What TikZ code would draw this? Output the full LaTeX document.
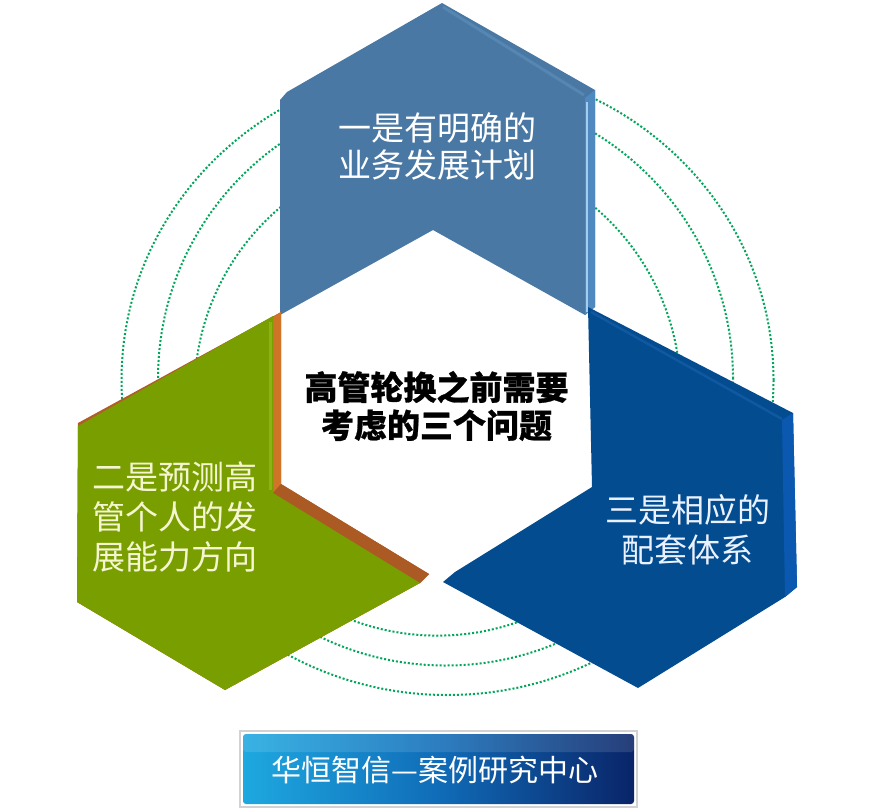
\documentclass[tikz,border=0pt]{standalone}
\usepackage{fontspec}
\newfontfamily\cjk{Noto Sans CJK SC}
\definecolor{topface}{RGB}{74,120,164}
\definecolor{topband}{RGB}{86,134,178}
\definecolor{topside}{RGB}{80,136,192}
\definecolor{topstripe}{RGB}{160,205,240}
\definecolor{greenface}{RGB}{120,158,0}
\definecolor{greenlight}{RGB}{140,178,20}
\definecolor{greenstrip}{RGB}{208,116,40}
\definecolor{greenarm}{RGB}{172,90,36}
\definecolor{greentop}{RGB}{176,94,40}
\definecolor{blueface}{RGB}{4,76,144}
\definecolor{blueband}{RGB}{16,88,160}
\definecolor{blueside}{RGB}{10,88,176}
\definecolor{dotgreen}{RGB}{0,166,90}
\definecolor{bannerL}{RGB}{30,168,224}
\definecolor{bannerM}{RGB}{16,108,184}
\definecolor{bannerR}{RGB}{10,36,104}
\definecolor{greentext}{RGB}{245,245,208}
\definecolor{bluetext}{RGB}{235,242,255}
\tikzset{
  ring/.style={dotgreen, line width=2pt, dash pattern=on 2pt off 2pt},
  cjktext/.style={inner sep=0pt, align=center, font=\cjk\fontsize{33}{40}\selectfont},
}
\begin{document}
\begin{tikzpicture}[x=1pt,y=-1pt]
\fill[white] (0,0) rectangle (872,811);
\useasboundingbox (0,0) rectangle (872,811);
% dotted rings
\draw[ring] (447.5,380) ellipse [x radius=326pt, y radius=315pt];
\draw[ring] (445.5,378.5) ellipse [x radius=287.5pt, y radius=287pt];
\draw[ring] (437.5,392.6) circle [radius=243pt];
% top piece
\fill[topface] (442,3) -- (595,90) -- (595,307) -- (585,315) -- (433,230) -- (280,315) -- (280,100) -- (287,92) -- cycle;
\draw[topband, line width=3pt] (443,7) -- (584,95);
\fill[topside] (585,98) -- (595,90) -- (595,307) -- (585,315) -- cycle;
\draw[topstripe, line width=2.5pt] (587,102) -- (587,312);
% green piece
\fill[greentop] (281,312) -- (78,423) -- (77,602) -- (225,690) -- (420,583) -- (429,574) -- (281,484) -- cycle;
\fill[greenstrip] (273,317) -- (281,312) -- (281,484) -- (273,493) -- cycle;
\fill[greenarm] (273,493) -- (281,484) -- (429,574) -- (420,583) -- cycle;
\fill[greenface] (273,316) -- (78,426) -- (77,602) -- (225,690) -- (420,583) -- (273,493) -- cycle;
\draw[greenlight, line width=3pt] (270,322) -- (270,490);
% blue piece
\fill[blueface] (588,307) -- (793,413) -- (797,587) -- (785,597) -- (638,688) -- (443,582) -- (455,572) -- (592,487) -- cycle;
\draw[blueband, line width=2.5pt] (591,312) -- (782,419);
\fill[blueside] (782,420) -- (793,413) -- (797,587) -- (785,597) -- cycle;
% texts
\node[cjktext, text=white, font=\cjk\fontsize{33}{37}\selectfont] (t1) at (437.5,146.5) {一是有明确的\\业务发展计划};
\node[cjktext, text=black, font=\cjk\bfseries\addfontfeature{FakeBold=0.8}\fontsize{33}{38}\selectfont] (tc) at (436.5,406) {高管轮换之前需要\\考虑的三个问题};
\node[cjktext, text=greentext] (t2) at (174.5,517) {二是预测高\\管个人的发\\展能力方向};
\node[cjktext, text=bluetext] (t3) at (687.5,530) {三是相应的\\配套体系};
% banner
\draw[gray!35, line width=1.2pt] (240,731) rectangle (637,807);
\shade[left color=bannerL, right color=bannerR, middle color=bannerM, rounded corners=3pt] (243,734) rectangle (634,804);
\fill[white, opacity=0.12, rounded corners=3pt] (243,734) rectangle (634,752);
\node[inner sep=0pt, text=white, font=\cjk\fontsize{30}{30}\selectfont] (banner) at (435,770) {华恒智信—案例研究中心};
\end{tikzpicture}
\end{document}
